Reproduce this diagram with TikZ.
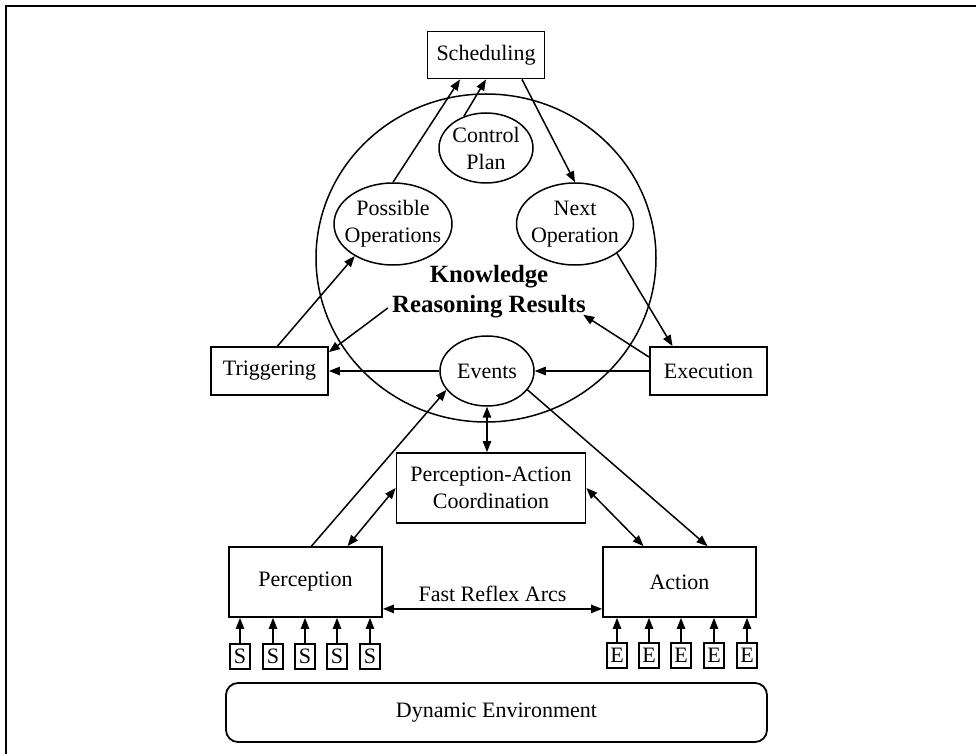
\documentclass[tikz,border=0pt]{standalone}
\usepackage{fontspec}
\setmainfont{Liberation Serif}
\usetikzlibrary{arrows.meta}
\usetikzlibrary{shapes.geometric}
\tikzset{>={Triangle[length=5.5pt,width=4.2pt]}}
\tikzset{
  blk/.style={draw, line width=0.9pt, inner sep=0pt, align=center},
  ell/.style={draw, ellipse, line width=0.75pt, inner sep=0pt, align=center},
  sbox/.style={draw, line width=0.8pt, minimum width=10pt, minimum height=12.5pt, inner sep=0pt},
  link/.style={line width=0.75pt},
}

\begin{document}
\begin{tikzpicture}[x=0.5pt, y=-0.5pt, font=\fontsize{11}{13.5}\selectfont]
\useasboundingbox (0,0) rectangle (976,754);
%page frame
\draw[line width=1.3pt] (5,6) -- (976,6);
\draw[line width=0.9pt] (6,6) -- (6,754);

%knowledge circle
\node[ell, minimum width=170pt, minimum height=164pt] (kb) at (486,258) {};
\node[inner sep=0pt, align=center, font=\fontsize{12.4}{15}\selectfont\bfseries] (kr) at (489,292) {Knowledge\\Reasoning Results};

%ellipses inside
\node[ell, minimum width=47pt, minimum height=35pt, label={[align=center]center:Control\\Plan}] (ctrl) at (486,148) {};
\node[ell, minimum width=59pt, minimum height=41pt, label={[align=center]center:Possible\\Operations}] (posop) at (393,224) {};
\node[ell, minimum width=58.5pt, minimum height=41pt, label={[align=center]center:Next\\Operation}] (nextop) at (575,224) {};
\node[ell, minimum width=47pt, minimum height=35pt] (events) at (487,371) {Events};

%boxes
\node[blk, minimum width=58.5pt, minimum height=23.5pt] (sched) at (486,55) {Scheduling};
\node[blk, minimum width=58.5pt, minimum height=24pt] (trig) at (269.5,371) {Triggering};
\node[blk, minimum width=58.5pt, minimum height=24pt] (exec) at (708.5,371) {Execution};
\node[blk, minimum width=94.5pt, minimum height=35pt] (pac) at (491,488) {Perception-Action\\Coordination};
\node[blk, minimum width=76.5pt, minimum height=35pt] (perc) at (305.5,582) {Perception};
\node[blk, minimum width=76.5pt, minimum height=35pt] (act) at (679.5,582) {Action};
\node[blk, rounded corners=6pt, minimum width=270.5pt, minimum height=29.5pt] (env) at (496.5,712.5) {Dynamic Environment};

%sensors and effectors
\foreach \i/\x in {1/240,2/273,3/305,4/337,5/370}
{
  \node[sbox] (s\i) at (\x,656.5) {S};
  \draw[link,->] (s\i) -- (s\i |- perc.south);
}
\foreach \i/\x in {1/617,2/649,3/681,4/714,5/747}
{
  \node[sbox] (e\i) at (\x,655.5) {E};
  \draw[link,->] (e\i) -- (e\i |- act.south);
}

%connections
\draw[link,->] (posop.north) -- ([shift={(-26,0)}]sched.south);
\draw[link,->] (ctrl.125) -- (sched.south);
\draw[link,->] ([shift={(36,0)}]sched.south) -- (nextop.north);
\draw[link,->] (nextop.-35) -- ([shift={(-36,0)}]exec.north);
\draw[link,->] ([shift={(0,11)}]exec.north west) -- ([shift={(-3,-4)}]kr.south east);
\draw[link,->] ([shift={(-4,16)}]kr.west) -- ([shift={(0,6)}]trig.north east);
\draw[link,->] ([shift={(8,0)}]trig.north) -- (posop.220);
\draw[link,->] (events.west) -- (trig.east);
\draw[link,->] (exec.west) -- (events.east);
\draw[link,->] ([shift={(6,0)}]perc.north) -- (events.205);
\draw[link,<->] (events.south) -- (events.south |- pac.north);
\draw[link,<->] (pac.west) -- ([shift={(42,0)}]perc.north);
\draw[link,<->] (pac.east) -- ([shift={(-36,0)}]act.north);
\draw[link,->] (events.-25) -- ([shift={(28,0)}]act.north);
\draw[link,<->] ([shift={(0,-9)}]perc.south east) -- node[above]{Fast Reflex Arcs} ([shift={(0,-9)}]act.south west);
\end{tikzpicture}
\end{document}
